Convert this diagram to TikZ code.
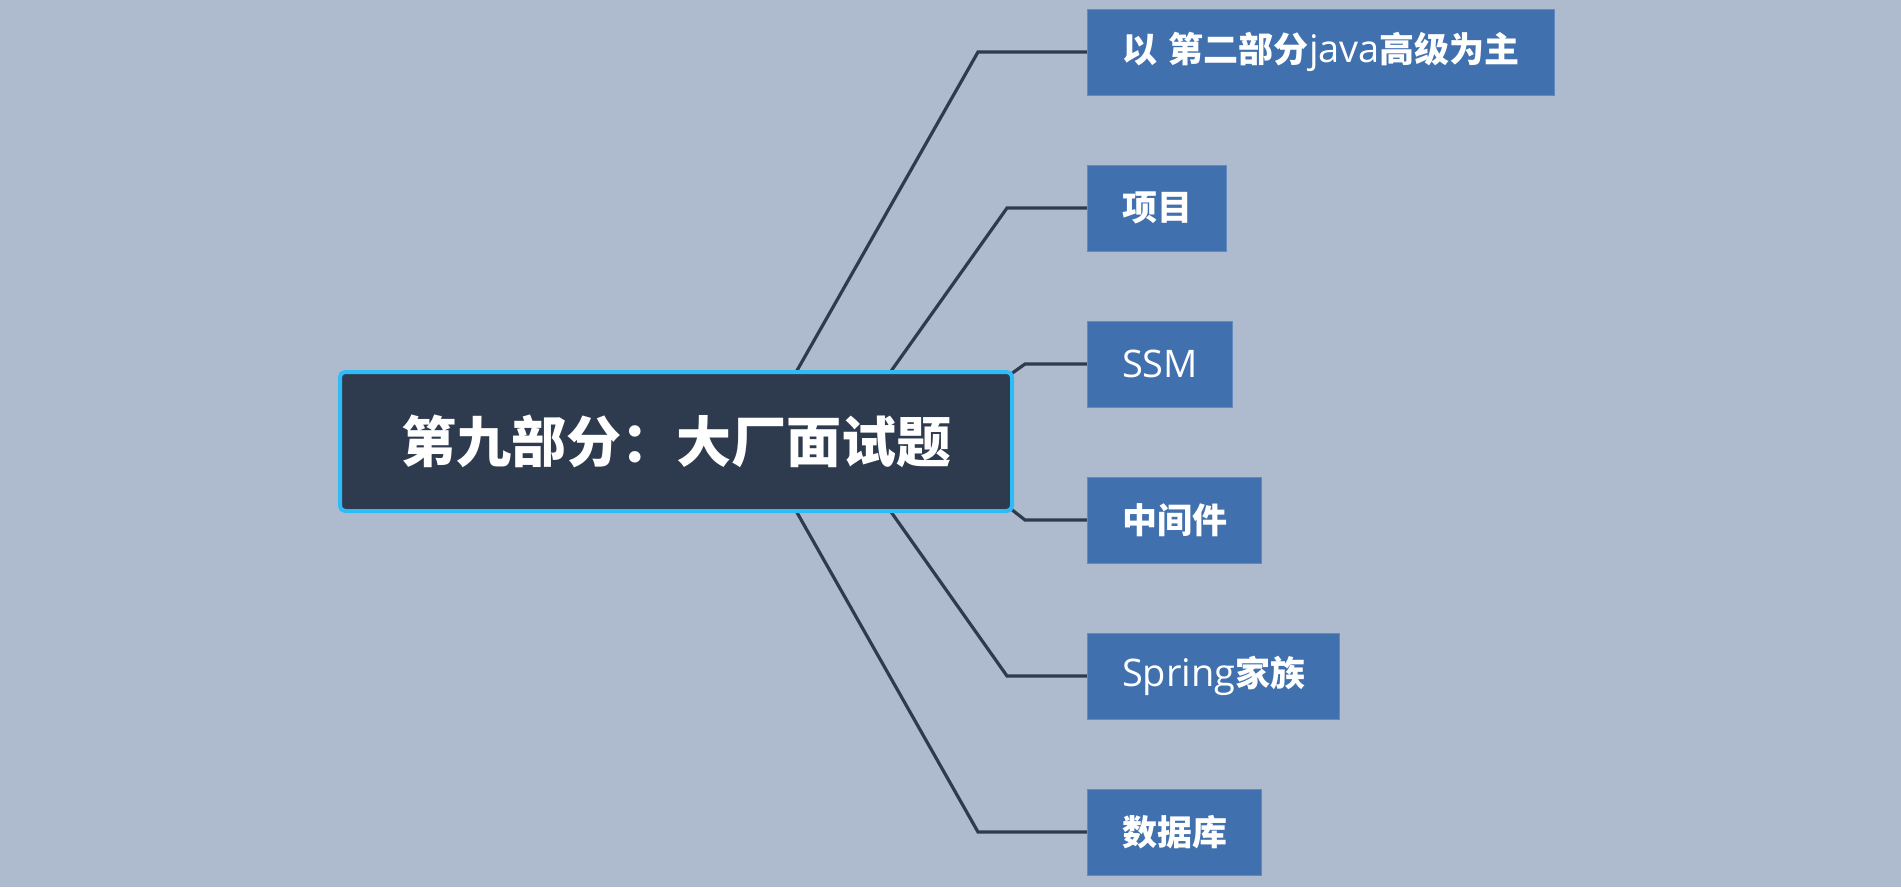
\documentclass[tikz,border=0pt]{standalone}
\usepackage{fontspec}
\setmainfont{Open Sans}
\newfontfamily\cjk{Noto Sans CJK SC}
\newfontfamily\lat{Open Sans}
\newcommand\latxt[1]{{\lat\mdseries\fontsize{38}{40}\selectfont #1}}
\definecolor{bg}{RGB}{174,187,207}
\definecolor{navy}{RGB}{46,59,78}
\definecolor{sel}{RGB}{47,187,248}
\definecolor{leaf}{RGB}{64,113,174}
\definecolor{leafedge}{RGB}{96,138,192}
\pgfdeclarelayer{bgfill}
\pgfdeclarelayer{edges}
\pgfsetlayers{bgfill,edges,main}
\tikzset{
  rootbox/.style={fill=navy, draw=sel, line width=4pt, rounded corners=5pt,
    minimum width=672pt, minimum height=139pt, inner sep=0pt, text=white,
    font=\cjk\bfseries\fontsize{55}{60}\selectfont},
  leafbox/.style={fill=leaf, draw=leafedge, line width=1pt, anchor=west,
    minimum height=86pt, inner xsep=34.5pt, inner ysep=0pt, text=white,
    font=\cjk\bfseries\fontsize{35}{40}\selectfont},
  link/.style={draw=navy, line width=3.2pt, line join=miter}
}
\begin{document}
\begin{tikzpicture}[x=1pt,y=-1pt]
\useasboundingbox (0,0) rectangle (1901,887);
\begin{pgfonlayer}{bgfill}
\fill[bg] (0,0) rectangle (1901,887);
\end{pgfonlayer}

\node[rootbox] (c) at (676,441.5) {第九部分：大厂面试题};

\node[leafbox] (l1) at (1087,52) {以\hspace{12pt}第二部分\latxt{java}高级为主};
\node[leafbox] (l2) at (1087,208) {项目};
\node[leafbox] (l3) at (1087,364) {\latxt{SSM}};
\node[leafbox] (l4) at (1087,520) {中间件};
\node[leafbox] (l5) at (1087,676) {\latxt{Spring}家族};
\node[leafbox] (l6) at (1087,832) {数据库};

\begin{pgfonlayer}{edges}
\draw[link] ([xshift=457pt,yshift=-4pt]c.north west) -- ([xshift=-109pt]l1.west) -- (l1.west);
\draw[link] ([xshift=551pt,yshift=-4pt]c.north west) -- ([xshift=-80pt]l2.west) -- (l2.west);
\draw[link] ([xshift=-3pt,yshift=-4pt]c.north east) -- ([xshift=-62pt]l3.west) -- (l3.west);
\draw[link] ([xshift=-3pt,yshift=4pt]c.south east) -- ([xshift=-62pt]l4.west) -- (l4.west);
\draw[link] ([xshift=551pt,yshift=4pt]c.south west) -- ([xshift=-80pt]l5.west) -- (l5.west);
\draw[link] ([xshift=457pt,yshift=4pt]c.south west) -- ([xshift=-109pt]l6.west) -- (l6.west);
\end{pgfonlayer}
\end{tikzpicture}
\end{document}
